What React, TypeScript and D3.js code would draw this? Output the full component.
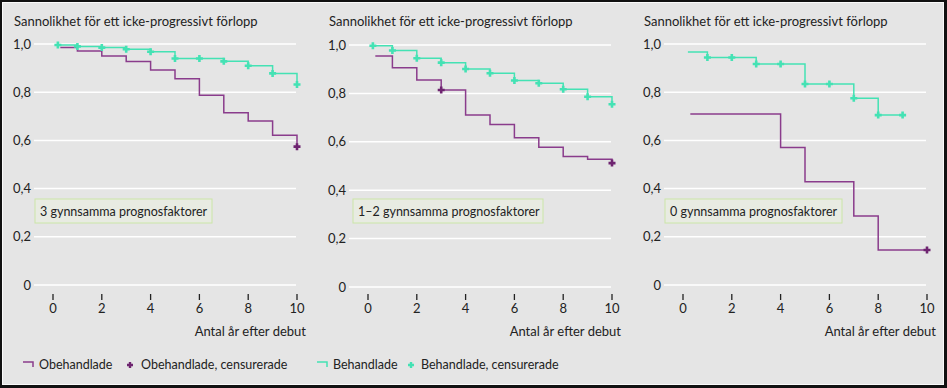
import React, { useEffect, useRef } from "react";
import * as d3 from "d3";

// Kaplan-Meier style step data: [år, sannolikhet]
const panelLabels = ["3 gynnsamma prognosfaktorer", "1–2 gynnsamma prognosfaktorer", "0 gynnsamma prognosfaktorer"];

const untreated1 = [[0.3, 0.985], [1, 0.971], [2, 0.95], [3, 0.927], [4, 0.892], [5, 0.856], [6, 0.787], [7, 0.715], [8, 0.68], [9, 0.621], [10, 0.574]];
const untreatedCens1 = [[10, 0.574]];
const treated1 = [[0.2, 0.996], [1, 0.99], [2, 0.985], [3, 0.978], [4, 0.968], [5, 0.94], [7, 0.928], [8, 0.91], [9, 0.878], [10, 0.832]];
const treatedCens1 = [[0.2, 0.996], [1, 0.99], [2, 0.985], [3, 0.978], [4, 0.968], [5, 0.94], [6, 0.94], [7, 0.928], [8, 0.91], [9, 0.878], [10, 0.832]];

const untreated2 = [[0.3, 0.955], [1, 0.906], [2, 0.855], [3, 0.814], [4, 0.711], [5, 0.672], [6, 0.617], [7, 0.577], [8, 0.539], [9, 0.528], [10, 0.512]];
const untreatedCens2 = [[3, 0.814], [10, 0.512]];
const treated2 = [[0.2, 0.997], [1, 0.977], [2, 0.945], [3, 0.927], [4, 0.901], [5, 0.883], [6, 0.853], [7, 0.842], [8, 0.817], [9, 0.786], [10, 0.755]];
const treatedCens2 = [[0.2, 0.997], [1, 0.977], [2, 0.945], [3, 0.927], [4, 0.901], [5, 0.883], [6, 0.853], [7, 0.842], [8, 0.817], [9, 0.786], [10, 0.755]];

const untreated3 = [[0.3, 0.71], [4, 0.571], [5, 0.428], [7, 0.286], [8, 0.145], [10, 0.145]];
const untreatedCens3 = [[10, 0.145]];
const treated3 = [[0.2, 0.967], [1, 0.944], [3, 0.917], [5, 0.834], [7, 0.775], [8, 0.705], [9, 0.705]];
const treatedCens3 = [[1, 0.944], [2, 0.944], [3, 0.917], [4, 0.917], [5, 0.834], [6, 0.834], [7, 0.775], [8, 0.705], [9, 0.705]];

const yTicks = [0, 0.2, 0.4, 0.6, 0.8, 1.0];
const yTickLabels = ["0", "0,2", "0,4", "0,6", "0,8", "1,0"];
const xTicks = [0, 2, 4, 6, 8, 10];
const legendLabels = ["Obehandlade", "Obehandlade, censurerade", "Behandlade", "Behandlade, censurerade"];

const purple = "#8a3c8c";
const purpleDark = "#6e2470";
const green = "#44e2b4";
const font = "Lato, 'Open Sans', sans-serif";

function App() {
    const svgNode = useRef(null);

    useEffect(() => {
        const svg = d3.select(svgNode.current);
        svg.selectAll("*").remove();
        const W = 947, H = 388;

        //Frame
        svg.append("rect").attr("width", W).attr("height", H).attr("fill", "#111");
        svg.append("rect").attr("x", 2).attr("y", 2).attr("width", W - 5).attr("height", H - 5).attr("fill", "#fafafa");
        svg.append("rect").attr("x", 3).attr("y", 3).attr("width", W - 7).attr("height", H - 7).attr("fill", "#e5e5e5");

        const panels = [
            { ox: 0, top: 44, bottom: 285, u: untreated1, uc: untreatedCens1, t: treated1, tc: treatedCens1 },
            { ox: 315, top: 45, bottom: 287, u: untreated2, uc: untreatedCens2, t: treated2, tc: treatedCens2 },
            { ox: 630, top: 44, bottom: 285, u: untreated3, uc: untreatedCens3, t: treated3, tc: treatedCens3 },
        ];

        const plus = (g, pts, x, y, color) => {
            g.selectAll(null).data(pts).join("path")
                .attr("d", d => {
                    const cx = x(d[0]), cy = y(d[1]);
                    return `M${cx - 3.5},${cy}H${cx + 3.5}M${cx},${cy - 3.5}V${cy + 3.5}`;
                })
                .attr("stroke", color).attr("stroke-width", 2.6).attr("fill", "none");
        };

        panels.forEach((p, i) => {
            const g = svg.append("g");
            const x = d3.scaleLinear().domain([0, 10]).range([p.ox + 53, p.ox + 297]);
            const y = d3.scaleLinear().domain([0, 1]).range([p.bottom, p.top]);

            //Title
            g.append("text").attr("x", p.ox + 14).attr("y", 26)
                .attr("font-family", font).attr("font-size", 13).attr("fill", "#222")
                .text("Sannolikhet för ett icke-progressivt förlopp");

            //Gridlines and y labels
            g.selectAll(null).data(yTicks).join("line")
                .attr("x1", p.ox + 34).attr("x2", p.ox + 296)
                .attr("y1", d => y(d)).attr("y2", d => y(d))
                .attr("stroke", "#fff").attr("stroke-width", 1.5);
            g.selectAll(null).data(yTicks).join("text")
                .attr("x", p.ox + 31).attr("y", d => y(d) + 4.5)
                .attr("text-anchor", "end")
                .attr("font-family", font).attr("font-size", 13).attr("fill", "#222")
                .text((d, j) => yTickLabels[j]);

            //X ticks
            g.selectAll(null).data(xTicks).join("line")
                .attr("x1", d => x(d)).attr("x2", d => x(d))
                .attr("y1", 294).attr("y2", 300)
                .attr("stroke", "#222").attr("stroke-width", 1.3);
            g.selectAll(null).data(xTicks).join("text")
                .attr("x", d => x(d)).attr("y", 313)
                .attr("text-anchor", "middle")
                .attr("font-family", font).attr("font-size", 13).attr("fill", "#222")
                .text(d => d);
            g.append("text").attr("x", p.ox + 306).attr("y", 336)
                .attr("text-anchor", "end")
                .attr("font-family", font).attr("font-size", 13).attr("fill", "#222")
                .text("Antal år efter debut");

            //Label box
            g.append("rect").attr("x", p.ox + (i === 1 ? 353 - 315 : 35)).attr("y", 199)
                .attr("width", i === 1 ? 190 : 177).attr("height", 24)
                .attr("fill", "#e8ebe2").attr("stroke", "#cbe6a8").attr("stroke-width", 1);
            g.append("text").attr("x", p.ox + (i === 1 ? 353 - 315 : 35) + 5).attr("y", 215.5)
                .attr("font-family", font).attr("font-size", 12.5).attr("fill", "#222")
                .text(panelLabels[i]);

            //Curves
            const line = d3.line().x(d => x(d[0])).y(d => y(d[1])).curve(d3.curveStepAfter);
            g.append("path").attr("d", line(p.u)).attr("fill", "none").attr("stroke", purple).attr("stroke-width", 1.5);
            g.append("path").attr("d", line(p.t)).attr("fill", "none").attr("stroke", green).attr("stroke-width", 1.5);
            plus(g, p.tc, x, y, green);
            plus(g, p.uc, x, y, purpleDark);
        });

        //Legend
        const lg = svg.append("g");
        const ly = 369;
        const items = [
            { kind: "step", color: purple, x: 23, tx: 39 },
            { kind: "plus", color: purpleDark, x: 130, tx: 141 },
            { kind: "step", color: green, x: 317, tx: 333 },
            { kind: "plus", color: green, x: 411, tx: 421 },
        ];
        items.forEach((it, j) => {
            if (it.kind === "step") {
                lg.append("path").attr("d", `M${it.x},${ly - 7}H${it.x + 10}V${ly - 2}`)
                    .attr("fill", "none").attr("stroke", it.color).attr("stroke-width", 1.5);
            } else {
                lg.append("path").attr("d", `M${it.x - 3},${ly - 4}H${it.x + 3}M${it.x},${ly - 7}V${ly - 1}`)
                    .attr("fill", "none").attr("stroke", it.color).attr("stroke-width", 2.4);
            }
            lg.append("text").attr("x", it.tx).attr("y", ly)
                .attr("font-family", font).attr("font-size", 12.5).attr("fill", "#222")
                .text(legendLabels[j]);
        });
    }, []);

    return (
        <div style={{ position: "absolute", left: 0, top: 0 }}>
            <svg ref={svgNode} width={947} height={388} style={{ display: "block" }}></svg>
        </div>
    );
}

export default App;
